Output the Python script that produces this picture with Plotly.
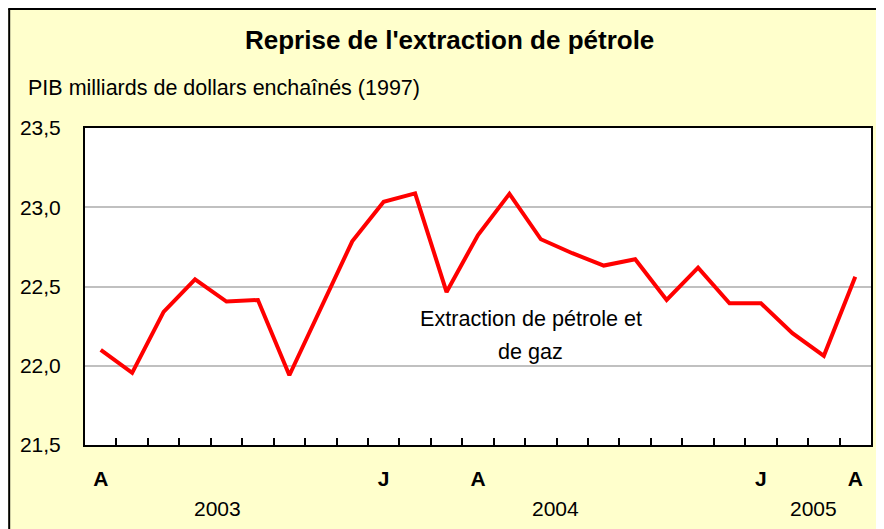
import plotly.graph_objects as go

# ---- data ----
months = ["avr. 2003", "mai 2003", "juin 2003", "juil. 2003", "août 2003", "sept. 2003",
          "oct. 2003", "nov. 2003", "déc. 2003", "janv. 2004", "févr. 2004", "mars 2004",
          "avr. 2004", "mai 2004", "juin 2004", "juil. 2004", "août 2004", "sept. 2004",
          "oct. 2004", "nov. 2004", "déc. 2004", "janv. 2005", "févr. 2005", "mars 2005",
          "avr. 2005"]
gdp_oil_gas = [22.10, 21.955, 22.34, 22.545, 22.405, 22.415, 21.94, 22.36, 22.785,
               23.035, 23.088, 22.465, 22.825, 23.085, 22.798, 22.71, 22.632, 22.672,
               22.415, 22.619, 22.394, 22.394, 22.206, 22.063, 22.562]
month_tick_text = ["A", "", "", "", "", "", "", "", "", "J", "", "", "A",
                   "", "", "", "", "", "", "", "", "J", "", "", "A"]
year_labels = ["2003", "2004", "2005"]
y_ticks = [21.5, 22.0, 22.5, 23.0, 23.5]
y_tick_text = ["21,5", "22,0", "22,5", "23,0", "23,5"]

title_text = "Reprise de l'extraction de pétrole"
unit_text = "PIB milliards de dollars enchaînés (1997)"
series_label = ["Extraction de pétrole et", "de gaz"]

FONT = "Liberation Sans, Arial, sans-serif"
BG = "#FFFFCC"

# The page body adds an 8px margin; figure coordinates below are relative to the figure.
FIG_W, FIG_H = 876, 521
OFF = 8

fig = go.Figure()
fig.add_trace(go.Scatter(
    x=months, y=gdp_oil_gas, mode="lines",
    line=dict(color="#FF0000", width=4),
    showlegend=False, hoverinfo="skip",
))

# Plot area geometry in screen pixels
L, R, T, B = 85 - OFF, 873 - OFF, 128 - OFF, 445 - OFF
W, H = R - L, B - T

def px(x):
    return (x - OFF - L) / W

def py(y):
    return (B - (y - OFF)) / H

annotations = [
    dict(text="<b>" + title_text + "</b>", x=px(450), y=py(40), xref="paper", yref="paper",
         xanchor="center", yanchor="middle", showarrow=False,
         font=dict(family=FONT, size=26, color="black")),
    dict(text=unit_text, x=px(26), y=py(88), xref="paper", yref="paper",
         xanchor="left", yanchor="middle", showarrow=False,
         font=dict(family=FONT, size=21.5, color="black")),
    dict(text=series_label[0], x=px(532), y=py(318), xref="paper", yref="paper",
         xanchor="center", yanchor="middle", showarrow=False,
         font=dict(family=FONT, size=21.6, color="black")),
    dict(text=series_label[1], x=px(532), y=py(351), xref="paper", yref="paper",
         xanchor="center", yanchor="middle", showarrow=False,
         font=dict(family=FONT, size=21.6, color="black")),
]
for lbl, xpix in zip(year_labels, [218, 557, 815]):
    annotations.append(dict(text=lbl, x=px(xpix), y=py(508), xref="paper", yref="paper",
                            xanchor="center", yanchor="middle", showarrow=False,
                            font=dict(family=FONT, size=21, color="black")))

shapes = [
    # chart frame (left and top edges visible in the reference)
    dict(type="line", xref="paper", yref="paper", x0=px(9), x1=px(9), y0=py(9), y1=py(560),
         line=dict(color="black", width=2)),
    dict(type="line", xref="paper", yref="paper", x0=px(8), x1=px(900), y0=py(9), y1=py(9),
         line=dict(color="black", width=2)),
]

fig.update_layout(
    width=FIG_W, height=FIG_H,
    margin=dict(l=L, r=FIG_W - R, t=T, b=FIG_H - B),
    paper_bgcolor=BG, plot_bgcolor="white",
    font=dict(family=FONT, size=21, color="black"),
    annotations=annotations, shapes=shapes,
    showlegend=False,
)
fig.update_xaxes(
    type="category", categoryorder="array", categoryarray=months,
    tickmode="array", tickvals=months, ticktext=month_tick_text,
    tickson="boundaries", ticks="inside", ticklen=7, tickwidth=1.5, tickcolor="black",
    tickfont=dict(family=FONT, size=21, color="black", weight="bold"),
    ticklabelstandoff=14,
    showgrid=False, zeroline=False,
    showline=True, linecolor="black", linewidth=2, mirror=True,
    range=[-0.5, len(months) - 0.5], fixedrange=True,
)
fig.update_yaxes(
    range=[21.5, 23.5], tickmode="array", tickvals=y_ticks, ticktext=y_tick_text,
    ticks="", tickfont=dict(family=FONT, size=21, color="black"),
    ticklabelstandoff=18,
    showgrid=True, gridcolor="#C0C0C0", gridwidth=1.5, zeroline=False,
    showline=True, linecolor="black", linewidth=2, mirror=True, fixedrange=True,
)

fig.write_html("out.html")
